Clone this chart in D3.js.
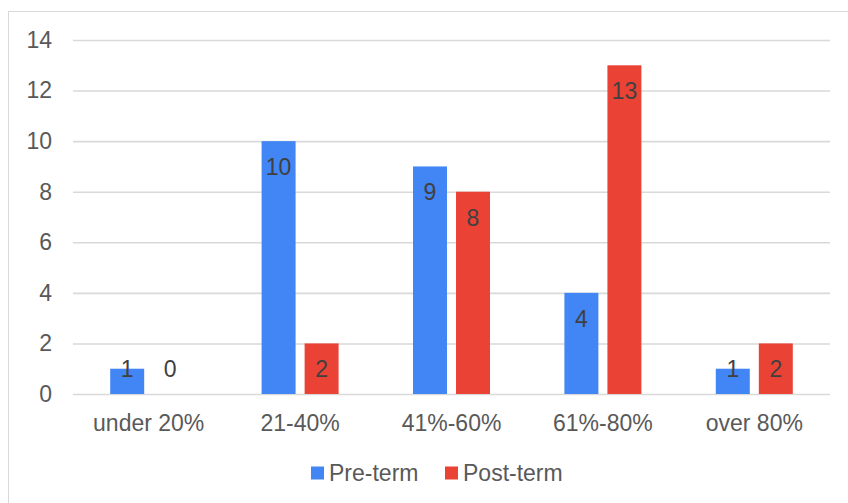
<!DOCTYPE html>
<html>
<head>
<meta charset="utf-8">
<script src="https://cdn.jsdelivr.net/npm/d3@7"></script>
<style>
  html, body { margin: 0; padding: 0; background: #fff; }
  svg { display: block; }
  text { font-family: "Liberation Sans", Arial, sans-serif; }
</style>
</head>
<body>
<svg id="chart" width="848" height="503"></svg>
<script>
// Share of answers per range, before and after the term
const categories = ["under 20%", "21-40%", "41%-60%", "61%-80%", "over 80%"];
const preTerm = [1, 10, 9, 4, 1];
const postTerm = [0, 2, 8, 13, 2];
const seriesNames = ["Pre-term", "Post-term"];
const seriesColors = ["#4285F4", "#EA4335"];
const yTicks = [0, 2, 4, 6, 8, 10, 12, 14];

const svg = d3.select("#chart");
const W = 848, H = 503;
const plot = { left: 73, right: 830, top: 40, bottom: 394 };

// chart frame
svg.append("rect")
  .attr("x", 8.5).attr("y", 11.5)
  .attr("width", W + 10).attr("height", H + 10)
  .attr("fill", "#fff").attr("stroke", "#d9d9d9").attr("stroke-width", 1);

const x0 = d3.scaleBand().domain(categories).range([plot.left, plot.right]).padding(0);
const groupW = 77;
const x1 = d3.scaleBand().domain(seriesNames)
  .range([(x0.bandwidth() - groupW) / 2, (x0.bandwidth() + groupW) / 2])
  .paddingInner(0.21).paddingOuter(0);
const y = d3.scaleLinear().domain([0, 14]).range([plot.bottom, plot.top]);

// gridlines + y tick labels
const yAxis = d3.axisLeft(y).tickValues(yTicks).tickSize(-(plot.right - plot.left)).tickPadding(21).tickFormat(d3.format("d"));
const gy = svg.append("g").attr("transform", `translate(${plot.left},0)`).call(yAxis);
gy.select(".domain").remove();
gy.selectAll(".tick line").attr("stroke", "#d9d9d9").attr("stroke-width", 1.6);
gy.selectAll(".tick text")
  .attr("fill", "#595959").style("font-size", "23px")
  .style("font-family", '"Liberation Sans", Arial, sans-serif');

// x category labels
const xAxis = d3.axisBottom(x0).tickSize(0).tickPadding(0);
const gx = svg.append("g").attr("transform", `translate(0,${plot.bottom})`).call(xAxis);
gx.select(".domain").remove();
gx.selectAll(".tick text")
  .attr("y", 29).attr("dy", "0.35em")
  .attr("fill", "#595959").style("font-size", "23px")
  .style("font-family", '"Liberation Sans", Arial, sans-serif');

const rows = categories.map((c, i) => ({ cat: c, vals: [preTerm[i], postTerm[i]] }));

const groups = svg.append("g").selectAll("g")
  .data(rows).join("g")
  .attr("transform", d => `translate(${x0(d.cat)},0)`);

groups.selectAll("rect")
  .data(d => d.vals.map((v, k) => ({ key: seriesNames[k], v, k })))
  .join("rect")
  .attr("x", d => x1(d.key))
  .attr("width", x1.bandwidth())
  .attr("y", d => y(d.v))
  .attr("height", d => y(0) - y(d.v))
  .attr("fill", d => seriesColors[d.k]);

// value labels, placed just inside the top of each bar
groups.selectAll("text.val")
  .data(d => d.vals.map((v, k) => ({ key: seriesNames[k], v, k })))
  .join("text")
  .attr("class", "val")
  .attr("x", d => x1(d.key) + x1.bandwidth() / 2)
  .attr("y", d => Math.min(y(d.v) + 26, y(0) - 25))
  .attr("dy", "0.35em")
  .attr("text-anchor", "middle")
  .attr("fill", "#404040")
  .style("font-size", "23px")
  .text(d => d.v);

// legend
const legend = svg.append("g").attr("transform", "translate(0,473)");
const legendX = [311, 445];
seriesNames.forEach((name, k) => {
  legend.append("rect")
    .attr("x", legendX[k]).attr("y", -6.5)
    .attr("width", 13).attr("height", 13)
    .attr("fill", seriesColors[k]);
  legend.append("text")
    .attr("x", legendX[k] + 18).attr("y", 0).attr("dy", "0.35em")
    .attr("fill", "#595959").style("font-size", "23px")
    .text(name);
});
</script>
</body>
</html>
